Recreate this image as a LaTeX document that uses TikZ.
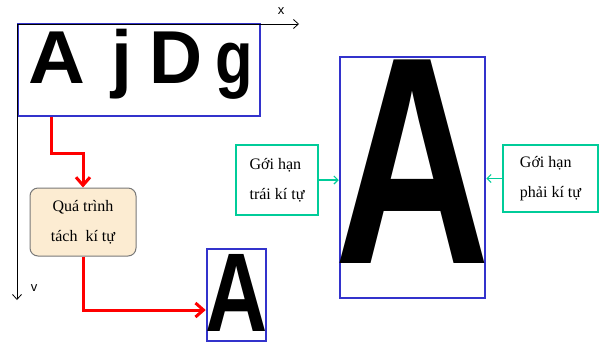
\documentclass[tikz,border=0pt]{standalone}
\usepackage{fontspec}
\setmainfont{Liberation Serif}
\newfontfamily\glyphfont{Liberation Sans}
\usetikzlibrary{arrows.meta, positioning, calc}
\definecolor{boxblue}{RGB}{51,51,204}
\definecolor{limgreen}{RGB}{0,204,153}
\definecolor{procfill}{RGB}{252,236,210}
\definecolor{procedge}{RGB}{120,120,120}

\begin{document}
\begin{tikzpicture}[
    x=1pt, y=-1pt,
    bluebox/.style={draw=boxblue, line width=2.5pt, inner sep=0pt},
    glyph/.style={anchor=base, inner sep=0pt,
                  font=\glyphfont\bfseries\fontsize{#1}{#1}\selectfont},
    axlbl/.style={font=\glyphfont\fontsize{13}{13}\selectfont, inner sep=0pt},
    procbox/.style={draw=procedge, fill=procfill, rounded corners=8pt,
                    line width=1pt, align=center, inner sep=0pt,
                    font=\fontsize{16}{30}\selectfont},
    limbox/.style={draw=limgreen, line width=2.5pt, align=left, inner sep=0pt,
                   font=\fontsize{16}{30}\selectfont},
    flow/.style={draw=red, line width=3pt,
                 -{Straight Barb[length=8pt, width=14pt]}},
    axis/.style={line width=0.8pt, -{Straight Barb[length=5pt, width=9pt]}},
    limarrow/.style={draw=limgreen, line width=1.2pt,
                     -{Straight Barb[length=4pt, width=8pt]}}
  ]
  \useasboundingbox (0,0) rectangle (604,346);

  % Word box with the letters
  \node[bluebox, minimum width=242pt, minimum height=92pt] (word) at (139,70) {};
  \foreach \ch/\px/\sx in {A/57/1.05, j/122/1.0, D/176/0.98, g/234/0.82}
    \node[glyph=75] (w\ch) at (\px,83) {\scalebox{\sx}[1]{\ch}};

  % Axes
  \coordinate (org) at (17,24);
  \coordinate (xend) at (299,24);
  \coordinate (yend) at (17,300);
  \draw[axis] (org) -- (xend);
  \draw[axis] (org) -- (yend);
  \node[axlbl] (xlbl) at (281,11) {x};
  \node[axlbl] (ylbl) at (34,288) {v};

  % Segmentation step
  \node[procbox, minimum width=106pt, minimum height=68pt] (proc) at (83,222)
    {Quá trình\\tách\ \ kí tự};

  % Single extracted character
  \node[bluebox, minimum width=59pt, minimum height=92pt] (small) at (236.5,295) {};
  \node[glyph=112] (smallA) at (236.5,331) {\scalebox{0.77}[1]{A}};

  \draw[flow] ([xshift=35pt]word.south west) -- ++(0,36) -| (proc.north);
  \draw[flow] (proc.south) |- ([yshift=-15pt]small.west);

  % Enlarged character with its limits
  \node[bluebox, minimum width=145pt, minimum height=241pt] (big) at (412.5,177.5) {};
  \node[glyph=296] (bigA) at (413,263) {\scalebox{0.73}[1]{A}};

  \node[limbox, minimum width=82pt, minimum height=70pt] (leftlim) at (277,180)
    {Gới hạn\\trái kí tự};
  \node[limbox, minimum width=95pt, minimum height=67pt] (rightlim) at (550.5,178.5)
    {Gới hạn\\phải kí tự};

  \draw[limarrow] (leftlim.east) -- (leftlim.east -| big.west);
  \draw[limarrow] (rightlim.west) -- (rightlim.west -| big.east);
\end{tikzpicture}
\end{document}
